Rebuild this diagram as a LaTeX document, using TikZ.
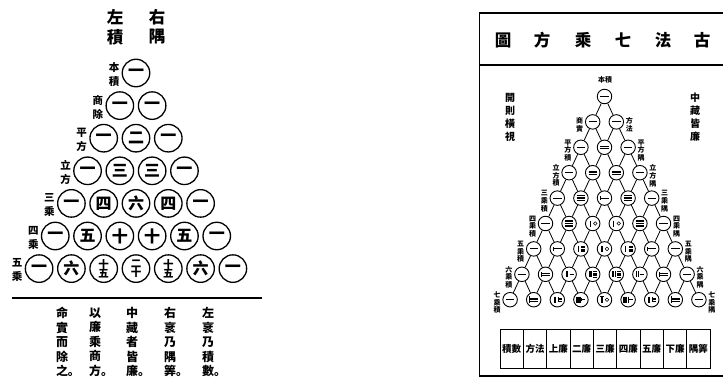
\documentclass[tikz,border=0pt]{standalone}
\usepackage{fontspec}
\newfontfamily\cjk{Noto Sans CJK TC}
\newfontfamily\cjksc{Noto Sans CJK SC}
\newcommand\stk[2]{{\fontsize{10.5}{10.5}\selectfont\vbox{\offinterlineskip\hbox{#1}\kern0.2pt\hbox{#2}}}}
% heng (horizontal) rod digit: #1 digit, #2 x, #3 y, #4 half width, #5 spacing, #6 line width
\newcommand\rodh[6]{%
  \ifnum#1=0
    \draw[line width=#6] (#2,#3) circle[radius=1.8];%
  \else\ifnum#1<6
    \foreach \j in {1,...,#1}{\draw[line width=#6] ({#2-#4},{#3+(\j-(#1+1)/2)*#5}) -- ({#2+#4},{#3+(\j-(#1+1)/2)*#5});}%
  \else
    \pgfmathtruncatemacro\mm{#1-5}%
    \draw[line width=#6] ({#2-#4},{#3-(\mm+1)/2*#5}) -- ({#2-#4},{#3+(\mm+1)/2*#5});%
    \foreach \j in {1,...,\mm}{\draw[line width=#6] ({#2-#4},{#3+(\j-(\mm+1)/2)*#5}) -- ({#2+#4},{#3+(\j-(\mm+1)/2)*#5});}%
  \fi\fi}
% zong (vertical) rod digit: #1 digit, #2 x, #3 y, #4 half height, #5 spacing, #6 line width
\newcommand\rodz[6]{%
  \ifnum#1<6
    \foreach \j in {1,...,#1}{\draw[line width=#6] ({#2+(\j-(#1+1)/2)*#5},{#3-#4}) -- ({#2+(\j-(#1+1)/2)*#5},{#3+#4});}%
  \else
    \pgfmathtruncatemacro\mm{#1-5}%
    \draw[line width=#6] ({#2-(\mm+1)/2*#5},{#3-#4}) -- ({#2+(\mm+1)/2*#5},{#3-#4});%
    \foreach \j in {1,...,\mm}{\draw[line width=#6] ({#2+(\j-(\mm+1)/2)*#5},{#3-#4}) -- ({#2+(\j-(\mm+1)/2)*#5},{#3+#4});}%
  \fi}
\newcommand\rodnum[3]{%
  \pgfmathtruncatemacro\rt{int(#1/10)}%
  \pgfmathtruncatemacro\ru{#1-10*\rt}%
  \ifnum\rt=0
    \rodh{\ru}{#2}{#3}{4.2}{1.7}{1pt}%
  \else
    \pgfmathsetmacro\rxa{#2-2.7}\pgfmathsetmacro\rxb{#2+2.5}%
    \rodz{\rt}{\rxa}{#3}{3}{1.2}{0.55pt}%
    \rodh{\ru}{\rxb}{#3}{2}{1.3}{0.55pt}%
  \fi}
\begin{document}
\begin{tikzpicture}[x=1pt,y=-1pt,
  lc/.style={circle,draw,line width=1.3pt,minimum size=27.5pt,inner sep=0pt,font=\cjk\bfseries\fontsize{16}{16}\selectfont},
  llab/.style={inner sep=0pt,align=center,font=\cjk\bfseries\fontsize{10.5}{14}\selectfont},
  ttl/.style={inner sep=0pt,font=\cjk\bfseries\fontsize{16.5}{16.5}\selectfont},
  col/.style={inner sep=0pt,align=center,font=\cjk\bfseries\fontsize{12}{14.5}\selectfont},
  rc/.style={circle,draw,line width=0.9pt,minimum size=14.5pt,inner sep=0pt},
  rlab/.style={inner sep=0pt,align=center,font=\cjk\bfseries\fontsize{7}{7.6}\selectfont},
  side/.style={inner sep=0pt,align=center,font=\cjk\bfseries\fontsize{10}{13}\selectfont},
  rbox/.style={draw,line width=0.9pt,minimum width=23.33pt,minimum height=39pt,inner sep=0pt,font=\cjk\bfseries\fontsize{9.5}{9.5}\selectfont},
  frame/.style={line width=1.5pt},
  lat/.style={line width=0.8pt}
]
\useasboundingbox (0,0) rectangle (723,383);
% ---------- left figure ----------
\node[ttl] (tl1) at (115,17) {左};
\node[ttl] (tr1) at (157,17) {右};
\node[ttl] (tl2) at (115,37) {積};
\node[ttl] (tr2) at (157,37) {隅};
\foreach \row [count=\k from 0] in {{一},{一,一},{一,二,一},{一,三,三,一},{一,四,六,四,一},{一,五,十,十,五,一},{一,六,{\stk{十}{五}},{\stk{二}{十}},{\stk{十}{五}},六,一}}{
  \foreach \t [count=\i from 0] in \row {
    \node[lc] (l-\k-\i) at ({136+(\i-\k/2)*32.3},{73+32.6*\k}) {\t};
  }
}
\foreach \a/\b [count=\k from 0] in {本/積,商/除,平/方,立/方,三/乘,四/乘,五/乘}
  \node[llab] (ll-\k) at ({136-\k/2*32.3-22},{74.5+32.6*\k}) {\a\\\b};
\coordinate (hl1) at (12,298);
\coordinate (hl2) at (262,298);
\draw[line width=1.4pt] (hl1) -- (hl2);
\node[col] (c1) at (62,342) {命\\實\\而\\除\\之\rlap{\cjksc 。}};
\node[col] (c2) at (95,342) {以\\廉\\乘\\商\\方\rlap{\cjksc 。}};
\node[col] (c3) at (132,342) {中\\藏\\者\\皆\\廉\rlap{\cjksc 。}};
\node[col] (c4) at (170,342) {右\\衺\\乃\\隅\\筭\rlap{\cjksc 。}};
\node[col] (c5) at (208,342) {左\\衺\\乃\\積\\數\rlap{\cjksc 。}};
% ---------- right figure ----------
\coordinate (f1) at (723,13);
\coordinate (f2) at (479.5,13);
\coordinate (f3) at (479.5,376);
\coordinate (f4) at (723,376);
\coordinate (s1) at (479.5,65);
\coordinate (s2) at (723,65);
\draw[frame] (f1) -- (f2) -- (f3) -- (f4);
\draw[frame] (s1) -- (s2);
\foreach \t/\x [count=\i] in {圖/503,方/542,乘/583,七/623,法/663,古/702}
  \node[ttl] (rt-\i) at (\x,40) {\t};
\foreach \row [count=\k from 0] in {{1},{1,1},{1,2,1},{1,3,3,1},{1,4,6,4,1},{1,5,10,10,5,1},{1,6,15,20,15,6,1},{1,7,21,35,35,21,7,1},{1,8,28,56,70,56,28,8,1}}{
  \foreach \n [count=\i from 0] in \row {
    \pgfmathsetmacro\cx{604.5+(\i-\k/2)*23.6}
    \pgfmathsetmacro\cy{96.5+25.4*\k}
    \node[rc] (r-\k-\i) at (\cx,\cy) {};
    \rodnum{\n}{\cx}{\cy}
  }
}
\foreach \k in {0,...,7}{
  \pgfmathtruncatemacro\kk{\k+1}
  \foreach \i in {0,...,\k}{
    \pgfmathtruncatemacro\ii{\i+1}
    \draw[lat] (r-\k-\i) -- (r-\kk-\i);
    \draw[lat] (r-\k-\i) -- (r-\kk-\ii);
  }
}
\node[rlab] (top) at (605,80) {本積};
\foreach \t [count=\k] in {商\\實,平\\方\\積,立\\方\\積,三\\乘\\積,四\\乘\\積,五\\乘\\積,六\\乘\\積,七\\乘\\積}
  \node[rlab] (lk-\k) at ({604.5-\k/2*23.6-13},{96.5+25.4*\k+3}) {\t};
\foreach \t [count=\k] in {方\\法,平\\方\\隅,立\\方\\隅,三\\乘\\隅,四\\乘\\隅,五\\乘\\隅,六\\乘\\隅,七\\乘\\隅}
  \node[rlab] (rk-\k) at ({604.5+\k/2*23.6+13},{96.5+25.4*\k+3}) {\t};
\node[side] (kz) at (510,117) {開\\則\\橫\\視};
\node[side] (zc) at (695,117) {中\\藏\\皆\\廉};
\foreach \t [count=\i from 0] in {積數,方法,上廉,二廉,三廉,四廉,五廉,下廉,隅筭}
  \node[rbox] (b-\i) at ({500+23.333*(\i+0.5)},348.5) {\t};
\end{tikzpicture}
\end{document}
